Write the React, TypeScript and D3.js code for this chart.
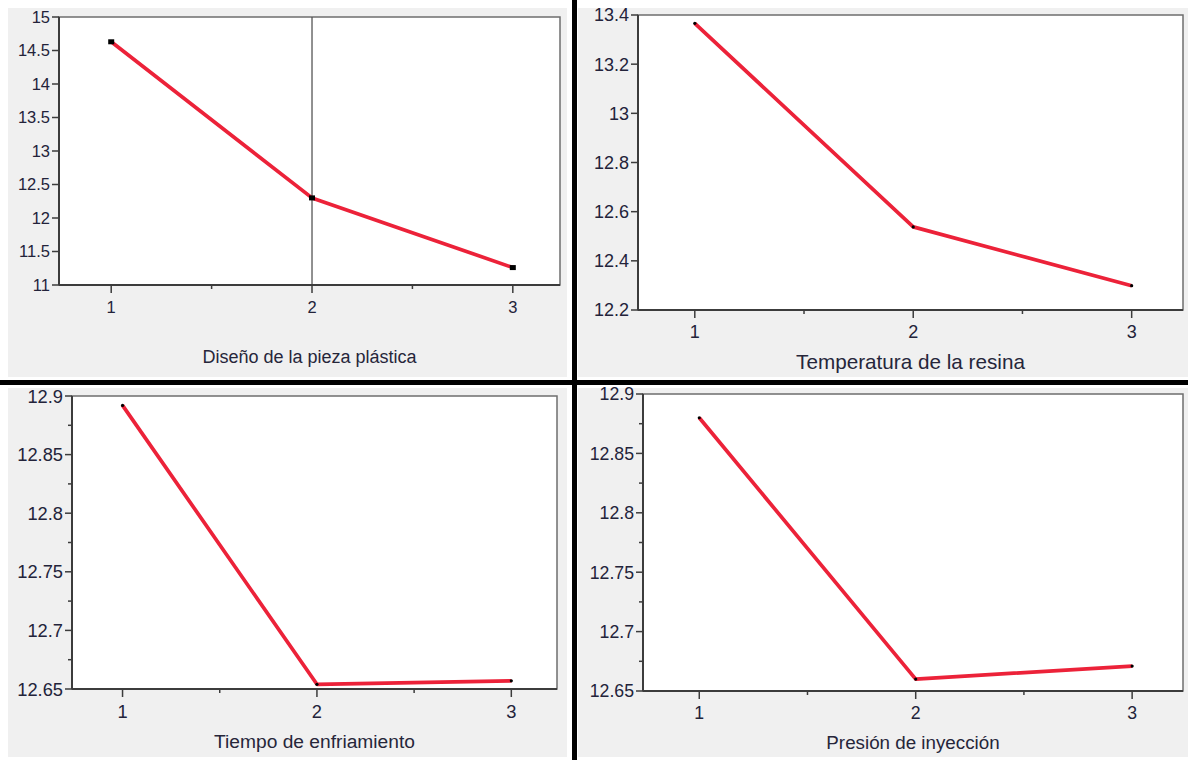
import React from "react";
import * as d3 from "d3";

// factor levels on the x axis
const levels = [1, 2, 3];

// mean response per level, one series per factor
const disenoValues = [14.63, 12.3, 11.26];
const temperaturaValues = [13.366, 12.538, 12.299];
const tiempoValues = [12.892, 12.654, 12.657];
const presionValues = [12.88, 12.66, 12.671];

// y tick labels per panel
const disenoTicks = [11, 11.5, 12, 12.5, 13, 13.5, 14, 14.5, 15];
const temperaturaTicks = [12.2, 12.4, 12.6, 12.8, 13, 13.2, 13.4];
const tiempoTicks = [12.65, 12.7, 12.75, 12.8, 12.85, 12.9];
const presionTicks = [12.65, 12.7, 12.75, 12.8, 12.85, 12.9];

const titles = [
  "Diseño de la pieza plástica",
  "Temperatura de la resina",
  "Tiempo de enfriamiento",
  "Presión de inyección",
];

const FONT = "'Liberation Sans', Arial, sans-serif";
const LINE_RED = "#ec2239";
const TEXT = "#23233a";

interface PanelProps {
  values: number[];
  ticks: number[];
  title: string;
  bg: { x: number; y: number; w: number; h: number };
  plot: { x0: number; x1: number; y0: number; y1: number };
  titleY: number;
  tickFont: number;
  titleFont: number;
  minorY: boolean;
  refLine: boolean;
  bigPoints: boolean;
}

const Panel: React.FC<PanelProps> = ({
  values,
  ticks,
  title,
  bg,
  plot,
  titleY,
  tickFont,
  titleFont,
  minorY,
  refLine,
  bigPoints,
}) => {
  const x = d3.scaleLinear().domain([0.74, 3.235]).range([plot.x0, plot.x1]);
  const y = d3
    .scaleLinear()
    .domain([ticks[0], ticks[ticks.length - 1]])
    .range([plot.y1, plot.y0]);

  const line = d3
    .line<number>()
    .x((_, i) => x(levels[i]))
    .y((d) => y(d));

  // minor ticks halfway between majors
  const minorYTicks = minorY
    ? d3.pairs(ticks).map(([a, b]) => (a + b) / 2)
    : [];
  const minorXTicks = d3.pairs(levels).map(([a, b]) => (a + b) / 2);

  return (
    <g>
      <rect x={bg.x} y={bg.y} width={bg.w} height={bg.h} fill="#f0f0f0" />
      <rect
        x={plot.x0}
        y={plot.y0}
        width={plot.x1 - plot.x0}
        height={plot.y1 - plot.y0}
        fill="#ffffff"
        stroke="#6e6e6e"
        strokeWidth={1.5}
      />
      {refLine && (
        <line
          x1={x(2)}
          x2={x(2)}
          y1={plot.y0}
          y2={plot.y1}
          stroke="#555"
          strokeWidth={1.3}
        />
      )}
      <path
        d={line(values) || ""}
        fill="none"
        stroke={LINE_RED}
        strokeWidth={3.7}
        strokeLinejoin="round"
      />
      {values.map((v, i) =>
        bigPoints ? (
          <rect
            key={i}
            x={x(levels[i]) - 3}
            y={y(v) - 2.5}
            width={6}
            height={5}
            fill="#000"
          />
        ) : (
          <circle key={i} cx={x(levels[i])} cy={y(v)} r={1.6} fill="#000" />
        )
      )}
      {/* axes */}
      <line
        x1={plot.x0}
        x2={plot.x0}
        y1={plot.y0}
        y2={plot.y1}
        stroke="#3c3c3c"
        strokeWidth={2}
      />
      <line
        x1={plot.x0}
        x2={plot.x1}
        y1={plot.y1}
        y2={plot.y1}
        stroke="#3c3c3c"
        strokeWidth={2}
      />
      {ticks.map((t) => (
        <g key={t}>
          <line
            x1={plot.x0 - 7}
            x2={plot.x0}
            y1={y(t)}
            y2={y(t)}
            stroke="#3c3c3c"
            strokeWidth={1.5}
          />
          <text
            x={plot.x0 - 9}
            y={y(t)}
            dy="0.36em"
            textAnchor="end"
            fontFamily={FONT}
            fontSize={tickFont}
            fill={TEXT}
          >
            {String(t)}
          </text>
        </g>
      ))}
      {minorYTicks.map((t) => (
        <line
          key={t}
          x1={plot.x0 - 4}
          x2={plot.x0}
          y1={y(t)}
          y2={y(t)}
          stroke="#3c3c3c"
          strokeWidth={1.5}
        />
      ))}
      {levels.map((l) => (
        <g key={l}>
          <line
            x1={x(l)}
            x2={x(l)}
            y1={plot.y1}
            y2={plot.y1 + 8}
            stroke="#3c3c3c"
            strokeWidth={1.5}
          />
          <text
            x={x(l)}
            y={plot.y1 + 22}
            dy="0.36em"
            textAnchor="middle"
            fontFamily={FONT}
            fontSize={tickFont}
            fill={TEXT}
          >
            {l}
          </text>
        </g>
      ))}
      {minorXTicks.map((l) => (
        <line
          key={l}
          x1={x(l)}
          x2={x(l)}
          y1={plot.y1}
          y2={plot.y1 + 4}
          stroke="#3c3c3c"
          strokeWidth={1.5}
        />
      ))}
      <text
        x={(plot.x0 + plot.x1) / 2}
        y={titleY}
        dy="0.36em"
        textAnchor="middle"
        fontFamily={FONT}
        fontSize={titleFont}
        fill="#26263a"
      >
        {title}
      </text>
    </g>
  );
};

export default function App() {
  const width = 1188;
  const height = 760;
  return (
    <svg
      width={width}
      height={height}
      style={{ position: "absolute", left: 0, top: 0, background: "#fff" }}
    >
      <Panel
        values={disenoValues}
        ticks={disenoTicks}
        title={titles[0]}
        bg={{ x: 8, y: 8, w: 559, h: 369 }}
        plot={{ x0: 59, x1: 560, y0: 17, y1: 285 }}
        titleY={357}
        tickFont={16.5}
        titleFont={18}
        minorY={false}
        refLine={true}
        bigPoints={true}
      />
      <Panel
        values={temperaturaValues}
        ticks={temperaturaTicks}
        title={titles[1]}
        bg={{ x: 578, y: 8, w: 610, h: 369 }}
        plot={{ x0: 638, x1: 1183, y0: 15, y1: 310 }}
        titleY={362}
        tickFont={18}
        titleFont={20.7}
        minorY={false}
        refLine={false}
        bigPoints={false}
      />
      <Panel
        values={tiempoValues}
        ticks={tiempoTicks}
        title={titles[2]}
        bg={{ x: 8, y: 388, w: 559, h: 369 }}
        plot={{ x0: 72, x1: 557, y0: 396, y1: 689 }}
        titleY={741}
        tickFont={18.3}
        titleFont={19.2}
        minorY={true}
        refLine={false}
        bigPoints={false}
      />
      <Panel
        values={presionValues}
        ticks={presionTicks}
        title={titles[3]}
        bg={{ x: 578, y: 388, w: 610, h: 369 }}
        plot={{ x0: 643, x1: 1183, y0: 394, y1: 691 }}
        titleY={742}
        tickFont={17.7}
        titleFont={18.8}
        minorY={true}
        refLine={false}
        bigPoints={false}
      />
      {/* black separators between panels */}
      <rect x={572} y={0} width={5} height={height} fill="#000" />
      <rect x={0} y={380} width={width} height={5} fill="#000" />
    </svg>
  );
}
